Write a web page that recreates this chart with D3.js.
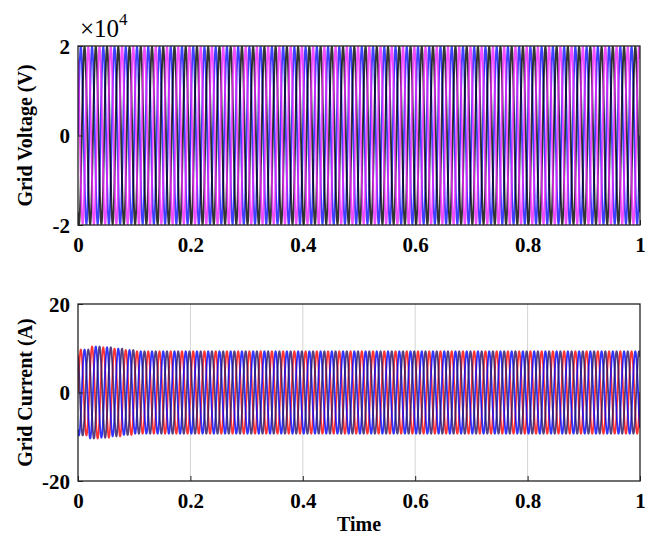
<!DOCTYPE html>
<html lang='en'>
	<head>
		<meta charset=utf-8>
		<title>Grid voltage and current</title>
		<script src="https://cdn.jsdelivr.net/npm/d3@7"></script>
		<style>
			body {
				margin: 0;
				background-color: white;
			}
			svg text {
				font-family: "Liberation Serif", "Times New Roman", serif !important;
				font-weight: bold;
				fill: black;
			}
			svg .tick text {
				font-size: 21px;
			}
			.grid line {
				stroke: #d4d4d4;
				stroke-width: 1;
			}
		</style>
	</head>
	<body>
		<svg id='chart' width="645" height="545"></svg>
	</body>

	<script>
		// waveform parameters
		var freq = 50;                      // Hz, ~50 cycles across the 1 s window
		var timeRange = [0, 1];
		var xTicks = [0, 0.2, 0.4, 0.6, 0.8, 1];
		var xTickLabels = ['0', '0.2', '0.4', '0.6', '0.8', '1'];

		// voltage: three phases
		var voltPhases = [0, -120, 120];    // degrees
		var voltPeak = [1.98, 1.98, 1.98];  // x 10^4 V
		var voltColors = ['#1010ff', '#000000', '#ee22ff'];
		var voltTicks = [-2, 0, 2];
		var voltTickLabels = ['-2', '0', '2'];

		// current: three phases, slight overshoot over the first cycles
		var currPhases = [0, -120, 120];
		var currPeak = [9.3, 9.3, 9.3];     // A, steady state
		var currStartPeaks = [9.7, 10.4, 10.2, 9.9, 9.6];  // first cycles
		var currColors = ['#ff0000', '#0000ff', '#2a1060'];
		var currTicks = [-20, 0, 20];
		var currTickLabels = ['-20', '0', '20'];

		var svg = d3.select('#chart');
		var left = 78, right = 640;
		var top1 = [46, 225], top2 = [304, 481];

		// soft blur, the source figure is a blurry raster
		svg.append('defs').append('filter').attr('id', 'soft')
			.attr('x', '-2%').attr('y', '-2%').attr('width', '104%').attr('height', '104%')
			.append('feGaussianBlur').attr('stdDeviation', 0.7);

		var x = d3.scaleLinear().domain(timeRange).range([left, right]);
		var nPts = 6000;
		var ts = d3.range(nPts + 1).map(function(i) { return timeRange[0] + (timeRange[1] - timeRange[0]) * i / nPts; });

		function wave(peak, phase, startPeaks) {
			return ts.map(function(t) {
				var cyc = Math.floor(t * freq);
				var a = (startPeaks && cyc < startPeaks.length) ? startPeaks[cyc] : peak;
				return [t, a * Math.sin(2 * Math.PI * freq * t + phase * Math.PI / 180)];
			});
		}

		function panel(yr, domain, yTicks, yLabels, id, hGrid) {
			var y = d3.scaleLinear().domain(domain).range([yr[1], yr[0]]);
			var g = svg.append('g');

			g.append('clipPath').attr('id', id).append('rect')
				.attr('x', left).attr('y', yr[0]).attr('width', right - left).attr('height', yr[1] - yr[0]);

			// grid
			g.append('g').attr('class', 'grid')
				.selectAll('line').data(xTicks.slice(1, -1)).enter().append('line')
				.attr('x1', function(d) { return x(d); }).attr('x2', function(d) { return x(d); })
				.attr('y1', yr[0]).attr('y2', yr[1]);
			if (hGrid) {
				g.append('g').attr('class', 'grid')
					.selectAll('line').data(yTicks.slice(1, -1)).enter().append('line')
					.attr('x1', left).attr('x2', right)
					.attr('y1', function(d) { return y(d); }).attr('y2', function(d) { return y(d); });
			}

			var plot = g.append('g').attr('clip-path', 'url(#' + id + ')').append('g').attr('filter', 'url(#soft)');

			// axes, ticks pointing inward
			var xa = d3.axisBottom(x).tickValues(xTicks).tickFormat(function(d, i) { return xTickLabels[i]; })
				.tickSizeInner(-5).tickSizeOuter(0).tickPadding(12);
			var ya = d3.axisLeft(y).tickValues(yTicks).tickFormat(function(d, i) { return yLabels[i]; })
				.tickSizeInner(-5).tickSizeOuter(0).tickPadding(8);
			var xg = g.append('g').attr('transform', 'translate(0,' + yr[1] + ')').call(xa);
			var yg = g.append('g').attr('transform', 'translate(' + left + ',0)').call(ya);
			[xg, yg].forEach(function(a) {
				a.attr('font-family', null).attr('font-size', null);
				a.select('.domain').remove();
				a.selectAll('.tick line').attr('stroke', '#222');
			});
			yg.selectAll('.tick text').attr('dy', '0.35em');

			g.append('rect').attr('x', left).attr('y', yr[0]).attr('width', right - left).attr('height', yr[1] - yr[0])
				.attr('fill', 'none').attr('stroke', '#222').attr('stroke-width', 1.3);

			return { y: y, plot: plot };
		}

		// top: voltage
		var p1 = panel(top1, [-2, 2], voltTicks, voltTickLabels, 'clipV', false);
		var line1 = d3.line().x(function(d) { return x(d[0]); }).y(function(d) { return p1.y(d[1]); });
		voltPhases.forEach(function(ph, i) {
			p1.plot.append('path').datum(wave(voltPeak[i], ph))
				.attr('d', line1).attr('fill', 'none')
				.attr('stroke', voltColors[i]).attr('stroke-width', 1.9).attr('stroke-opacity', 0.8);
		});

		// bottom: current
		var p2 = panel(top2, [-20, 20], currTicks, currTickLabels, 'clipI', true);
		var line2 = d3.line().x(function(d) { return x(d[0]); }).y(function(d) { return p2.y(d[1]); });
		currPhases.forEach(function(ph, i) {
			p2.plot.append('path').datum(wave(currPeak[i], ph, currStartPeaks))
				.attr('d', line2).attr('fill', 'none')
				.attr('stroke', currColors[i]).attr('stroke-width', 1.8).attr('stroke-opacity', 0.8);
		});

		// labels
		svg.append('text').attr('transform', 'translate(32,' + (top1[0] + top1[1]) / 2 + ') rotate(-90)')
			.attr('text-anchor', 'middle').style('font-size', '20px').text('Grid Voltage (V)');
		svg.append('text').attr('transform', 'translate(32,' + (top2[0] + top2[1]) / 2 + ') rotate(-90)')
			.attr('text-anchor', 'middle').style('font-size', '20px').text('Grid Current (A)');
		svg.append('text').attr('x', (left + right) / 2).attr('y', 531)
			.attr('text-anchor', 'middle').style('font-size', '20px').text('Time');

		var exp = svg.append('text').attr('x', 80).attr('y', 37).style('font-size', '25px').style('font-weight', 'normal');
		exp.append('tspan').text('\u00d710');
		exp.append('tspan').attr('dy', -12).style('font-size', '17px').text('4');
	</script>
</html>
